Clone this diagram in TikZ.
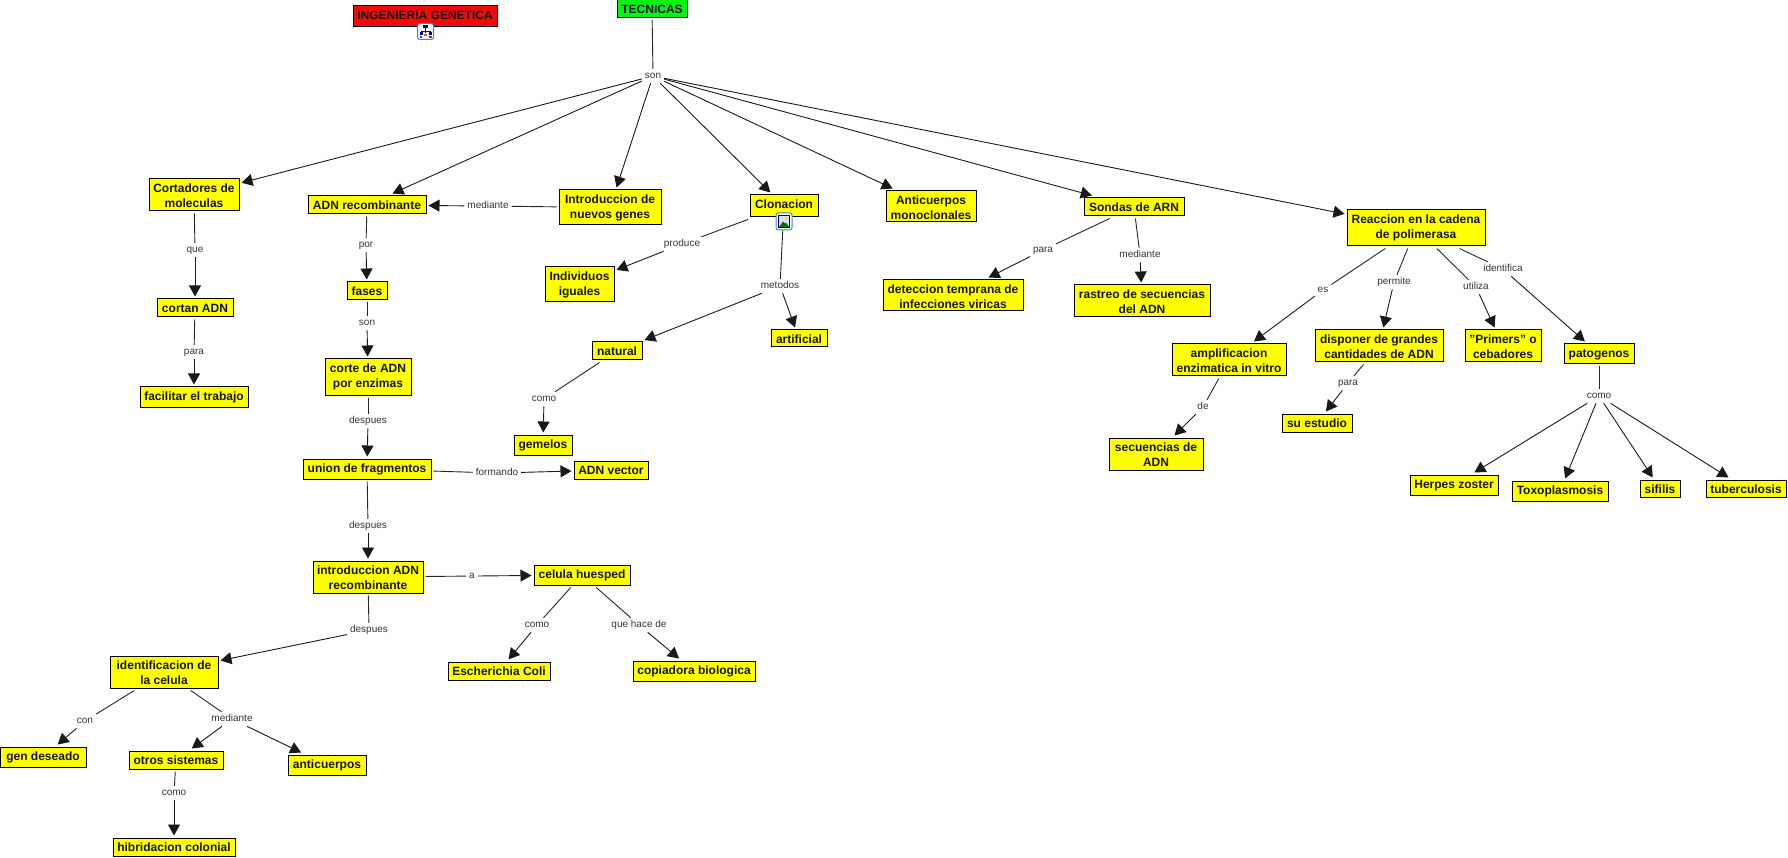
\documentclass[tikz,border=0pt]{standalone}
\usepackage{fontspec}
\setmainfont{Liberation Sans}
\usetikzlibrary{arrows.meta}
\definecolor{cyel}{RGB}{255,255,0}
\definecolor{cred}{RGB}{240,10,10}
\definecolor{cgrn}{RGB}{0,245,20}
\definecolor{iconblue}{RGB}{66,133,214}
\tikzset{
  conc/.style={draw=black,line width=1pt,fill=cyel,font=\bfseries\fontsize{12}{15}\selectfont,align=center,inner sep=0pt,outer sep=2.5pt,text=black!92},
  lab/.style={font=\fontsize{10}{12}\selectfont,inner sep=1pt,outer sep=2pt,text=black!80,text height=6.5pt,text depth=2pt,yshift=-1.05pt},
  plain/.style={line width=.9pt,black!85},
  arr/.style={line width=.9pt,black!90,-{Triangle[length=11pt,width=12pt]}}
}
\newcommand{\cbox}[7][]{\pgfmathsetmacro{\cht}{(#5-#3)>28?28.3:13.3}\pgfmathsetmacro{\cdp}{#5-#3-\cht}\node[conc,#1,text height=\cht pt,text depth=\cdp pt,minimum width={#4-#2},minimum height={#5-#3}] (#7) at ({(#2+#4)/2},{(#3+#5)/2}) {#6};}
\newcommand{\lbl}[4]{\node[lab] (#1) at (#2,#3) {#4};}
\begin{document}
\begin{tikzpicture}[x=1pt,y=-1pt]
\useasboundingbox (0,0) rectangle (1788,858);
% concepts
\cbox[fill=cred]{353}{6}{497}{27}{INGENIERIA GENETICA}{ing}
\cbox[fill=cgrn]{617}{0}{687}{17.5}{TECNICAS}{tec}
\cbox{149}{179}{239}{211}{Cortadores de\\moleculas}{cort}
\cbox{308}{196}{426}{214}{ADN recombinante}{adnr}
\cbox{559}{190}{661}{225}{Introduccion de\\nuevos genes}{intg}
\cbox{750}{195}{818}{217}{Clonacion}{clon}
\cbox{886}{191}{976}{222}{Anticuerpos\\monoclonales}{anti}
\cbox{1084}{198}{1184}{216}{Sondas de ARN}{sond}
\cbox{1347}{210}{1485}{246}{Reaccion en la cadena\\de polimerasa}{reac}
\cbox{157}{299}{233}{317}{cortan ADN}{cadn}
\cbox{140}{387}{248}{407}{facilitar el trabajo}{faci}
\cbox{347}{282}{387}{300}{fases}{fase}
\cbox{325}{359}{411}{395}{corte de ADN\\por enzimas}{cade}
\cbox{303}{459}{431}{479}{union de fragmentos}{unio}
\cbox{574}{461}{648}{479}{ADN vector}{adnv}
\cbox{313}{561}{423}{593}{introduccion ADN\\recombinante}{iadn}
\cbox{534}{565}{630}{585}{celula huesped}{celu}
\cbox{448}{662}{550}{680}{Escherichia Coli}{esch}
\cbox{633}{661}{755}{681}{copiadora biologica}{copi}
\cbox{110}{656}{218}{688}{identificacion de\\la celula}{iden}
\cbox{0}{747}{86}{767}{gen deseado}{gend}
\cbox{129}{751}{223}{769}{otros sistemas}{otro}
\cbox{288}{755}{366}{775}{anticuerpos}{anpo}
\cbox{113}{838}{235}{856}{hibridacion colonial}{hibr}
\cbox{545}{267}{614}{302}{Individuos\\iguales}{indi}
\cbox{592}{342}{642}{360}{natural}{natu}
\cbox{771}{330}{827}{347}{artificial}{arti}
\cbox{514}{435}{572}{455}{gemelos}{geme}
\cbox{883}{280}{1023}{311}{deteccion temprana de\\infecciones viricas}{dete}
\cbox{1074}{285}{1210}{317}{rastreo de secuencias\\del ADN}{rast}
\cbox{1172}{344}{1286}{376}{amplificacion\\enzimatica in vitro}{ampl}
\cbox{1315}{330}{1443}{362}{disponer de grandes\\cantidades de ADN}{disp}
\cbox{1465}{330}{1541}{362}{"Primers" o\\cebadores}{prim}
\cbox{1564}{344}{1634}{364}{patogenos}{pato}
\cbox{1109}{438}{1203}{470}{secuencias de\\ADN}{secu}
\cbox{1282}{414}{1352}{432}{su estudio}{sues}
\cbox{1410}{475}{1498}{495}{Herpes zoster}{herp}
\cbox{1512}{481}{1608}{501}{Toxoplasmosis}{toxo}
\cbox{1640}{480}{1680}{497}{sifilis}{sifi}
\cbox{1706}{480}{1786}{497}{tuberculosis}{tube}
% linking phrases
\lbl{lson}{653}{75}{son}
\lbl{lque}{195}{249}{que}
\lbl{lpar}{194}{351}{para}
\lbl{lmed}{488}{205}{mediante}
\lbl{lpor}{366}{244}{por}
\lbl{lsof}{367}{322}{son}
\lbl{ldes}{368}{420}{despues}
\lbl{lfor}{497}{472}{formando}
\lbl{ldeb}{368}{525}{despues}
\lbl{la}{472}{575}{a}
\lbl{ldec}{369}{629}{despues}
\lbl{lcom}{537}{624}{como}
\lbl{lqhd}{639}{624}{que hace de}
\lbl{lcon}{85}{720}{con}
\lbl{lmei}{232}{718}{mediante}
\lbl{lcot}{174}{792}{como}
\lbl{lpro}{682}{243}{produce}
\lbl{lmet}{780}{285}{metodos}
\lbl{lcng}{544}{398}{como}
\lbl{lpas}{1043}{249}{para}
\lbl{lmes}{1140}{254}{mediante}
\lbl{les}{1323}{289}{es}
\lbl{lper}{1394}{281}{permite}
\lbl{luti}{1476}{286}{utiliza}
\lbl{lide}{1503}{268}{identifica}
\lbl{lde}{1203}{406}{de}
\lbl{lpad}{1348}{382}{para}
\lbl{lcop}{1599}{395}{como}
% connectors
\draw[plain] (tec)--(lson);
\foreach \t in {cort,adnr,intg,clon,anti,sond,reac} \draw[arr] (lson)--(\t);
\draw[plain] (cort)--(lque); \draw[arr] (lque)--(cadn);
\draw[plain] (cadn)--(lpar); \draw[arr] (lpar)--(faci);
\draw[plain] (intg)--(lmed); \draw[arr] (lmed)--(adnr);
\draw[plain] (adnr)--(lpor); \draw[arr] (lpor)--(fase);
\draw[plain] (fase)--(lsof); \draw[arr] (lsof)--(cade);
\draw[plain] (cade)--(ldes); \draw[arr] (ldes)--(unio);
\draw[plain] (unio)--(lfor); \draw[arr] (lfor)--(adnv);
\draw[plain] (unio)--(ldeb); \draw[arr] (ldeb)--(iadn);
\draw[plain] (iadn)--(la);   \draw[arr] (la)--(celu);
\draw[plain] (iadn)--(ldec); \draw[arr] (ldec)--(iden);
\draw[plain] (celu)--(lcom); \draw[arr] (lcom)--(esch);
\draw[plain] (celu)--(lqhd); \draw[arr] (lqhd)--(copi);
\draw[plain] (iden)--(lcon); \draw[arr] (lcon)--(gend);
\draw[plain] (iden)--(lmei); \draw[arr] (lmei)--(otro); \draw[arr] (lmei)--(anpo);
\draw[plain] (otro)--(lcot); \draw[arr] (lcot)--(hibr);
\draw[plain] (clon)--(lpro); \draw[arr] (lpro)--(indi);
\draw[plain] (clon)--(lmet); \draw[arr] (lmet)--(natu); \draw[arr] (lmet)--(arti);
\draw[plain] (natu)--(lcng); \draw[arr] (lcng)--(geme);
\draw[plain] (sond)--(lpas); \draw[arr] (lpas)--(dete);
\draw[plain] (sond)--(lmes); \draw[arr] (lmes)--(rast);
\draw[plain] (reac)--(les);  \draw[arr] (les)--(ampl);
\draw[plain] (reac)--(lper); \draw[arr] (lper)--(disp);
\draw[plain] (reac)--(luti); \draw[arr] (luti)--(prim);
\draw[plain] (reac)--(lide); \draw[arr] (lide)--(pato);
\draw[plain] (ampl)--(lde);  \draw[arr] (lde)--(secu);
\draw[plain] (disp)--(lpad); \draw[arr] (lpad)--(sues);
\draw[plain] (pato)--(lcop);
\foreach \t in {herp,toxo,sifi,tube} \draw[arr] (lcop)--(\t);
% icon: concept map
\begin{scope}[shift={(425.5,31.5)}]
\draw[iconblue,line width=1pt,fill=white,rounded corners=2.5pt] (-8,-8) rectangle (8,8);
\draw[blue!60!black,line width=.7pt] (0,-3)--(0,2) (-4.5,3)--(-4.5,0)--(4.5,0)--(4.5,3);
\fill[blue!70!black] (-2.5,-6) rectangle (2.5,-3);
\fill[blue!70!black] (-6,1) rectangle (-3,3.5);
\fill[blue!70!black] (3,1) rectangle (6,3.5);
\fill[orange!80!black] (-1.5,2.5) rectangle (1.5,5);
\fill[black!70] (-6,4.5) rectangle (-3.5,6.5);
\fill[black!70] (3.5,4.5) rectangle (6,6.5);
\end{scope}
% icon: image
\begin{scope}[shift={(784,221.5)}]
\draw[iconblue,line width=1pt,fill=white,rounded corners=2.5pt] (-8,-8.5) rectangle (8,8.5);
\draw[blue!50!black,line width=.8pt,fill=blue!12] (-5.5,-6) rectangle (5.5,6);
\fill[green!45!black] (-5,5.5)--(-1,0)--(1,2)--(2,1)--(5,5.5)--cycle;
\fill[yellow!80!orange] (2.5,-3) circle (1.5);
\end{scope}
\end{tikzpicture}
\end{document}
